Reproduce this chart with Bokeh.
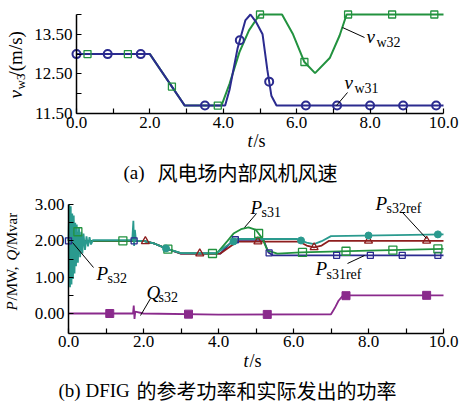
import numpy as np
from bokeh.plotting import figure
from bokeh.models import Label, FixedTicker, Range1d, NumeralTickFormatter
from bokeh.layouts import column
from bokeh.embed import file_html
from bokeh.resources import INLINE

# ---------------- data: (a) wind speeds ----------------
t_w31 = [0.0, 2.0, 2.95, 4.05, 4.17, 4.39, 4.6, 4.74, 4.9, 5.07, 5.2, 5.31, 5.45, 10.0]
v_w31 = [13.0, 13.0, 11.7, 11.7, 12.1, 13.15, 13.85, 14.0, 13.8, 13.5, 12.6, 11.95, 11.7, 11.7]
t_w32 = [0.0, 2.0, 2.95, 3.95, 4.17, 4.44, 4.7, 4.99, 5.6, 5.9, 6.21, 6.5, 6.9, 7.17, 7.36, 10.0]
v_w32 = [13.0, 13.0, 11.7, 11.7, 12.25, 13.05, 13.6, 14.0, 14.0, 13.5, 12.8, 12.52, 12.9, 13.47, 14.0, 14.0]
mk_t_w31 = [0.0, 0.85, 1.75, 3.5, 4.45, 5.25, 6.25, 7.1, 8.0, 8.9, 9.8]
mk_t_w32 = [0.3, 1.4, 2.6, 3.85, 5.0, 6.21, 7.4, 8.6, 9.75]

# ---------------- data: (b) powers ----------------
t_ps32 = [0.0, 0.02, 0.04, 0.06, 0.08, 0.10, 0.12, 0.14, 0.16, 0.18, 0.20, 0.22, 0.25, 0.28,
          0.31, 0.34, 0.37, 0.40, 0.44, 0.48, 0.52, 0.56, 0.60, 0.65, 1.70, 1.73, 1.75, 1.77,
          1.80, 2.0, 2.3, 2.65, 3.0, 3.95, 4.2, 4.5, 6.1, 6.35, 6.55, 6.75, 7.0, 10.0]
v_ps32 = [2.0, 3.0, 0.72, 2.95, 0.8, 2.75, 0.95, 2.7, 1.1, 2.5, 1.3, 2.45, 1.4, 2.35,
          1.55, 2.25, 1.65, 2.2, 1.75, 2.12, 1.85, 2.1, 1.9, 2.02, 2.02, 2.55, 1.86, 2.3,
          2.0, 2.0, 1.92, 1.77, 1.66, 1.66, 1.85, 2.05, 2.05, 1.95, 1.91, 1.99, 2.13, 2.18]
t_ps31 = [0.0, 0.05, 0.1, 0.15, 0.2, 0.25, 0.3, 0.35, 0.4, 0.5, 2.0, 2.3, 2.65, 3.0, 3.95,
          4.24, 4.4, 4.6, 4.8, 5.0, 5.17, 5.31, 5.57, 6.2, 8.0, 10.0]
v_ps31 = [2.0, 2.4, 1.7, 2.3, 1.8, 2.25, 1.85, 2.15, 1.95, 2.0, 2.0, 1.92, 1.77, 1.66, 1.65,
          2.0, 2.2, 2.32, 2.37, 2.3, 2.06, 1.73, 1.65, 1.68, 1.73, 1.78]
t_ps31ref = [0.0, 2.0, 2.3, 2.65, 3.0, 4.05, 4.4, 5.2, 5.33, 5.45, 10.0]
v_ps31ref = [2.0, 2.0, 1.92, 1.77, 1.65, 1.65, 2.03, 2.03, 1.68, 1.6, 1.6]
t_ps32ref = [0.0, 2.0, 2.3, 2.65, 3.0, 4.05, 4.5, 6.15, 6.35, 6.55, 6.75, 6.95, 10.0]
v_ps32ref = [2.0, 2.0, 1.92, 1.77, 1.65, 1.65, 1.98, 1.98, 1.87, 1.82, 1.87, 2.0, 2.0]
t_qs32 = [0.0, 1.0, 1.72, 1.74, 1.76, 1.78, 2.0, 4.0, 7.0, 7.1, 7.2, 7.3, 7.45, 10.0]
v_qs32 = [0.0, 0.0, 0.0, 0.22, -0.15, 0.05, 0.0, -0.03, -0.02, 0.15, 0.35, 0.47, 0.5, 0.5]
mk_t_ps31ref = [0.0, 1.75, 4.45, 5.35, 7.15, 8.05, 8.9, 9.85]
mk_t_ps32ref = [2.05, 3.5, 5.05, 6.55, 8.0, 9.55]
mk_t_ps31 = [0.25, 1.45, 2.65, 3.84, 5.07, 6.24, 7.4, 8.65, 9.85]
mk_t_ps32 = [2.6, 4.4, 6.2, 8.0, 9.85]
mk_t_qs32 = [1.1, 3.2, 5.3, 7.4, 9.55]

# ticks
x_major = [0, 2, 4, 6, 8, 10]
x_minor = [1, 3, 5, 7, 9]
ya_major = [11.5, 12.5, 13.5]
ya_minor = [12.0, 13.0, 14.0]
yb_major = [0, 1, 2, 3]
yb_minor = [0.5, 1.5, 2.5]

NAVY = "#2b2b8f"
GREEN = "#22923f"
TEAL = "#2a9a8e"
RED = "#8e1e1e"
PURPLE = "#8a2a8c"
SERIF = "Liberation Serif"
CJK = "Noto Sans CJK SC"
W = 459
H1 = 186
H2 = 405 - H1


def make_fig(page_top, height, px0, px1, x0, x1, py0, py1, y0, y1):
    """Figure whose frame is the whole canvas; (px0->x0, px1->x1), (py0->y0, py1->y1) in page px."""
    sx = (x1 - x0) / (px1 - px0)
    sy = (y1 - y0) / (py0 - py1)
    xr = Range1d(x0 - px0 * sx, x0 + (W - px0) * sx)
    yr = Range1d(y0 - (page_top + height - py0) * sy, y0 + (py0 - page_top) * sy)
    p = figure(width=W, height=height, x_range=xr, y_range=yr,
               output_backend="svg", toolbar_location=None,
               min_border=0, min_border_left=0, min_border_right=0,
               min_border_top=0, min_border_bottom=0)

    def conv(px, py):
        return (x0 + (px - px0) * sx, y0 + (py0 - py) * sy)
    return p, conv


def style(p, xt, xm, yt, ym, xb, yb):
    p.outline_line_color = None
    p.grid.visible = False
    p.background_fill_color = "white"
    p.border_fill_color = "white"
    p.xaxis.ticker = FixedTicker(ticks=xt, minor_ticks=xm)
    p.yaxis.ticker = FixedTicker(ticks=yt, minor_ticks=ym)
    p.xaxis.formatter = NumeralTickFormatter(format="0.0")
    p.yaxis.formatter = NumeralTickFormatter(format="0.00")
    p.xaxis.fixed_location = yb[0]
    p.yaxis.fixed_location = xb[0]
    p.xaxis.bounds = xb
    p.yaxis.bounds = yb
    for ax in (p.xaxis, p.yaxis):
        ax.axis_line_width = 1.5
        ax.axis_line_color = "black"
        ax.major_tick_in = 5
        ax.major_tick_out = 0
        ax.minor_tick_in = 5
        ax.minor_tick_out = 0
        ax.major_tick_line_width = 1.2
        ax.minor_tick_line_width = 1.2
        ax.major_label_text_font = SERIF
        ax.major_label_text_font_size = "17px"
        ax.major_label_text_color = "black"
    p.xaxis.major_label_standoff = 3
    p.yaxis.major_label_standoff = 4


def add_text(p, conv, px, py, text, size, italic=False, angle=0.0, align="left",
             font=SERIF):
    x, y = conv(px, py)
    p.add_layout(Label(x=x, y=y, text=text, text_font=font,
                       text_font_size=f"{size}px",
                       text_font_style="italic" if italic else "normal",
                       angle=angle, text_align=align, text_baseline="middle",
                       text_color="black"))


def leader(p, conv, a, b):
    x0, y0 = conv(*a)
    x1, y1 = conv(*b)
    p.segment(x0=[x0], y0=[y0], x1=[x1], y1=[y1], line_color="black", line_width=1)


# ---------------- figure (a) ----------------
p1, conv1 = make_fig(0, H1, 76, 443, 0.0, 10.0, 113, 14, 11.5, 14.0)
style(p1, x_major, x_minor, ya_major, ya_minor, (0, 10), (11.5, 14.0))

p1.line(t_w32, v_w32, line_color=GREEN, line_width=2)
p1.line(t_w31, v_w31, line_color=NAVY, line_width=2)
p1.scatter(mk_t_w32, np.interp(mk_t_w32, t_w32, v_w32), marker="square", size=7,
           fill_color=None, line_color=GREEN, line_width=1.3)
p1.scatter(mk_t_w31, np.interp(mk_t_w31, t_w31, v_w31), marker="circle", size=8,
           fill_color=None, line_color=NAVY, line_width=2)

leader(p1, conv1, (342, 27), (364, 37))
leader(p1, conv1, (347, 92), (336, 105))
add_text(p1, conv1, 366, 36, "v", 19, italic=True)
add_text(p1, conv1, 376, 42, "w32", 14)
add_text(p1, conv1, 344, 82, "v", 19, italic=True)
add_text(p1, conv1, 354, 88, "w31", 14)
add_text(p1, conv1, 247, 140, "t", 18, italic=True)
add_text(p1, conv1, 253, 140, "/s", 18)
add_text(p1, conv1, 15, 98, "v", 19, italic=True, angle=np.pi / 2)
add_text(p1, conv1, 20, 89, "w3", 13, angle=np.pi / 2)
add_text(p1, conv1, 15, 76, "/(m/s)", 19, angle=np.pi / 2)
add_text(p1, conv1, 123, 172, "(a)", 19)
add_text(p1, conv1, 157, 172, "风电场内部风机风速", 20, font=CJK)

# ---------------- figure (b) ----------------
p2, conv2 = make_fig(H1, H2, 68, 443, 0.0, 10.0, 313, 204, 0.0, 3.0)
style(p2, x_major, x_minor, yb_major, yb_minor, (0, 10), (-0.55, 3.0))

p2.line(t_qs32, v_qs32, line_color=PURPLE, line_width=1.8)
p2.line(t_ps31ref, v_ps31ref, line_color=NAVY, line_width=1.8)
p2.line(t_ps32ref, v_ps32ref, line_color=RED, line_width=1.8)
p2.line(t_ps31, v_ps31, line_color=GREEN, line_width=1.8)
p2.line(t_ps32, v_ps32, line_color=TEAL, line_width=1.8)

p2.scatter(mk_t_qs32, np.interp(mk_t_qs32, t_qs32, v_qs32), marker="square", size=8,
           fill_color=PURPLE, line_color=PURPLE)
p2.scatter(mk_t_ps31ref, np.interp(mk_t_ps31ref, t_ps31ref, v_ps31ref), marker="square",
           size=6, fill_color=None, line_color=NAVY, line_width=1.3)
p2.scatter(mk_t_ps32ref, np.interp(mk_t_ps32ref, t_ps32ref, v_ps32ref), marker="triangle",
           size=8, fill_color=None, line_color=RED, line_width=1.3)
p2.scatter(mk_t_ps31, np.interp(mk_t_ps31, t_ps31, v_ps31), marker="square", size=8,
           fill_color=None, line_color=GREEN, line_width=1.3)
p2.scatter(mk_t_ps32, np.interp(mk_t_ps32, t_ps32, v_ps32), marker="circle", size=7,
           fill_color=TEAL, line_color=TEAL)

for a, b in [((256, 213), (244, 227)), ((402, 212), (426, 238)),
             ((347, 263), (364, 255)), ((93, 267), (72, 242)), ((150, 298), (140, 315))]:
    leader(p2, conv2, a, b)

add_text(p2, conv2, 250, 207, "P", 19, italic=True)
add_text(p2, conv2, 261, 212, "s31", 14)
add_text(p2, conv2, 375, 203, "P", 19, italic=True)
add_text(p2, conv2, 386, 208, "s32ref", 14)
add_text(p2, conv2, 315, 268, "P", 19, italic=True)
add_text(p2, conv2, 326, 274, "s31ref", 14)
add_text(p2, conv2, 96, 273, "P", 19, italic=True)
add_text(p2, conv2, 107, 278, "s32", 14)
add_text(p2, conv2, 146, 292, "Q", 19, italic=True)
add_text(p2, conv2, 158, 297, "s32", 14)
add_text(p2, conv2, 243, 360, "t", 18, italic=True)
add_text(p2, conv2, 249, 360, "/s", 18)
add_text(p2, conv2, 11, 310, "P", 15, italic=True, angle=np.pi / 2)
add_text(p2, conv2, 11, 300, "/MW,", 15, angle=np.pi / 2)
add_text(p2, conv2, 11, 260, "Q", 15, italic=True, angle=np.pi / 2)
add_text(p2, conv2, 11, 249, "/Mvar", 15, angle=np.pi / 2)
add_text(p2, conv2, 58, 390, "(b) DFIG", 19)
add_text(p2, conv2, 136, 390, "的参考功率和实际发出的功率", 20, font=CJK)

layout = column(p1, p2, spacing=0)
open("out.html", "w").write(file_html(layout, INLINE))
